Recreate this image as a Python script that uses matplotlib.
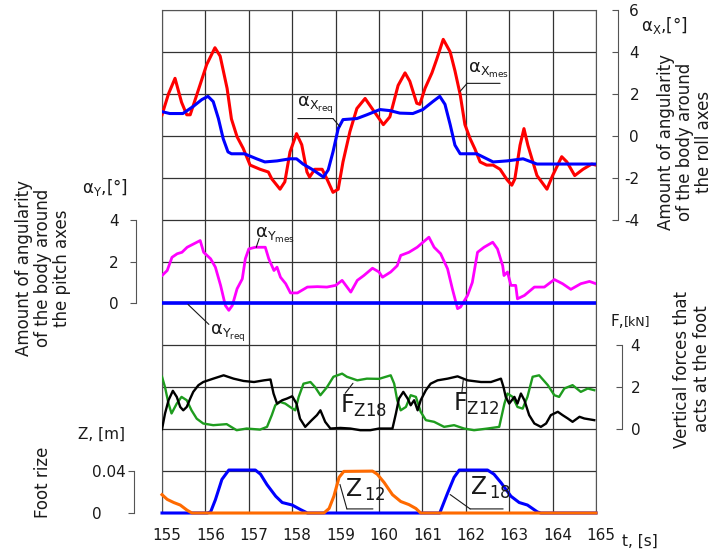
import matplotlib
matplotlib.use("Agg")
import matplotlib.pyplot as plt
import matplotlib.transforms as mtransforms

plt.rcParams['font.family'] = ['DejaVu Sans']
plt.rcParams['mathtext.default'] = 'regular'

# time axis
t_ticks = list(range(155, 166))

# roll angle (measured / required), deg
t_xmes = [155.0, 155.15, 155.3, 155.45, 155.57, 155.65, 155.88, 156.03, 156.22, 156.34,
          156.5, 156.6, 156.73, 156.87, 157.03, 157.26, 157.45, 157.53, 157.72, 157.83,
          157.95, 158.1, 158.22, 158.34, 158.4, 158.52, 158.69, 158.8, 158.94, 159.06,
          159.17, 159.33, 159.49, 159.68, 159.84, 160.1, 160.25, 160.44, 160.6, 160.71,
          160.87, 160.94, 161.06, 161.22, 161.33, 161.48, 161.64, 161.75, 161.87, 161.98,
          162.1, 162.21, 162.33, 162.48, 162.63, 162.79, 162.95, 163.06, 163.13, 163.25,
          163.34, 163.43, 163.64, 163.87, 164.0, 164.21, 164.33, 164.51, 164.7, 164.9, 165.0]
ax_mes = [1.0, 2.0, 2.74, 1.6, 1.0, 1.0, 2.45, 3.4, 4.2, 3.8,
          2.26, 0.8, -0.05, -0.6, -1.4, -1.6, -1.73, -2.06, -2.55, -2.2,
          -0.77, 0.1, -0.43, -1.73, -1.97, -1.6, -1.6, -2.06, -2.7, -2.55,
          -1.25, 0.2, 1.3, 1.78, 1.3, 0.53, 0.9, 2.4, 3.0, 2.6,
          1.55, 1.5, 2.26, 3.0, 3.65, 4.6, 4.0, 3.1, 1.97, 0.53,
          -0.14, -0.63, -1.25, -1.4, -1.4, -1.6, -2.1, -2.36, -2.06, -0.45,
          0.34, -0.45, -1.9, -2.55, -1.9, -1.0, -1.25, -1.9, -1.6, -1.35, -1.4]

t_xreq = [155.0, 155.18, 155.48, 155.72, 155.92, 156.06, 156.18, 156.3, 156.41, 156.52,
          156.6, 156.9, 157.18, 157.37, 157.65, 157.95, 158.1, 158.25, 158.48, 158.72,
          158.83, 158.94, 159.06, 159.17, 159.49, 159.72, 160.02, 160.25, 160.48, 160.78,
          161.01, 161.24, 161.4, 161.52, 161.64, 161.75, 161.87, 162.25, 162.63, 162.95,
          163.32, 163.64, 165.0]
ax_req = [1.15, 1.06, 1.06, 1.4, 1.73, 1.88, 1.63, 0.82, -0.14, -0.77,
          -0.86, -0.86, -1.1, -1.25, -1.2, -1.1, -1.1, -1.35, -1.63, -1.97,
          -1.63, -0.77, 0.34, 0.77, 0.82, 1.0, 1.25, 1.2, 1.08, 1.06,
          1.25, 1.63, 1.88, 1.5, 0.53, -0.45, -0.86, -0.86, -1.25, -1.2,
          -1.1, -1.35, -1.35]

# pitch angle, deg
t_ymes = [155.0, 155.12, 155.23, 155.35, 155.46, 155.58, 155.73, 155.88, 155.96, 156.12,
          156.23, 156.35, 156.46, 156.54, 156.62, 156.73, 156.85, 156.92, 157.0, 157.15,
          157.38, 157.46, 157.58, 157.65, 157.73, 157.85, 157.96, 158.12, 158.35, 158.58,
          158.8, 159.0, 159.15, 159.35, 159.5, 159.65, 159.85, 160.0, 160.08, 160.27,
          160.42, 160.5, 160.69, 160.88, 161.15, 161.27, 161.42, 161.58, 161.69, 161.81,
          161.88, 162.04, 162.15, 162.27, 162.42, 162.62, 162.73, 162.85, 162.88, 162.96,
          163.04, 163.15, 163.19, 163.35, 163.58, 163.81, 164.04, 164.23, 164.42, 164.65,
          164.85, 165.0]
ay_mes = [1.33, 1.57, 2.2, 2.37, 2.44, 2.68, 2.84, 3.0, 2.44, 2.13,
          1.73, 0.86, -0.1, -0.33, -0.1, 0.7, 1.17, 2.13, 2.6, 2.68,
          2.68, 2.13, 1.57, 1.73, 1.25, 0.94, 0.5, 0.5, 0.78, 0.8,
          0.78, 0.86, 1.1, 0.54, 1.1, 1.33, 1.68, 1.5, 1.25, 1.5,
          1.8, 2.29, 2.44, 2.68, 3.16, 2.68, 2.37, 1.65, 0.7, -0.25,
          -0.17, 0.38, 1.0, 2.44, 2.68, 2.92, 2.6, 1.8, 1.33, 1.5,
          0.86, 0.86, 0.22, 0.38, 0.78, 0.78, 1.14, 0.94, 0.67, 0.94,
          1.05, 0.94]
t_yreq = [155.0, 165.0]
ay_req = [0.0, 0.0]

# vertical foot forces, kN
t_f12 = [155.0, 155.07, 155.15, 155.25, 155.34, 155.42, 155.49, 155.57, 155.65, 155.72,
         155.84, 155.95, 156.18, 156.42, 156.65, 156.88, 157.12, 157.35, 157.5, 157.57,
         157.65, 157.77, 157.88, 158.0, 158.1, 158.18, 158.3, 158.45, 158.57, 158.65,
         158.76, 158.88, 159.11, 159.34, 159.57, 159.8, 160.0, 160.31, 160.39, 160.46,
         160.56, 160.66, 160.73, 160.81, 160.89, 160.96, 161.08, 161.19, 161.35, 161.58,
         161.81, 162.04, 162.35, 162.58, 162.81, 162.87, 162.92, 163.0, 163.12, 163.19,
         163.27, 163.35, 163.46, 163.58, 163.73, 163.85, 163.96, 164.12, 164.23, 164.35,
         164.46, 164.62, 164.73, 164.96]
fz12 = [0.0, 0.75, 1.38, 1.83, 1.54, 1.06, 0.9, 1.06, 1.46, 1.78,
        2.1, 2.25, 2.41, 2.57, 2.41, 2.3, 2.25, 2.33, 2.37, 1.7,
        1.22, 1.38, 1.46, 1.57, 1.22, 0.5, 0.11, 0.43, 0.67, 0.9,
        0.35, 0.03, 0.06, 0.03, -0.05, -0.05, 0.03, 0.03, 0.75, 1.46,
        1.78, 1.46, 1.14, 1.38, 0.9, 1.38, 1.86, 2.17, 2.33, 2.41,
        2.52, 2.33, 2.25, 2.25, 2.41, 2.0, 1.54, 1.22, 1.54, 1.22,
        1.7, 1.38, 0.67, 0.27, 0.11, 0.27, 0.67, 0.83, 0.67, 0.51,
        0.35, 0.59, 0.51, 0.43]

t_f18 = [155.0, 155.07, 155.15, 155.22, 155.34, 155.45, 155.57, 155.68, 155.8, 155.95,
         156.18, 156.49, 156.72, 156.95, 157.26, 157.42, 157.53, 157.61, 157.72, 157.84,
         157.95, 158.07, 158.15, 158.26, 158.42, 158.53, 158.65, 158.8, 158.95, 159.15,
         159.26, 159.5, 159.72, 160.0, 160.27, 160.35, 160.42, 160.5, 160.62, 160.73,
         160.85, 160.96, 161.08, 161.27, 161.5, 161.73, 161.96, 162.19, 162.5, 162.77,
         162.89, 162.96, 163.08, 163.19, 163.31, 163.42, 163.54, 163.69, 163.89, 164.04,
         164.15, 164.27, 164.46, 164.65, 164.81, 164.96]
fz18 = [2.5, 2.0, 1.22, 0.75, 1.22, 1.54, 1.38, 0.9, 0.5, 0.27,
        0.19, 0.24, -0.05, 0.03, -0.02, 0.11, 0.67, 1.14, 1.3, 1.22,
        1.06, 0.9, 1.54, 2.17, 2.25, 2.0, 1.62, 2.0, 2.5, 2.65,
        2.5, 2.33, 2.41, 2.4, 2.57, 2.17, 1.38, 0.9, 1.06, 1.62,
        1.54, 0.83, 0.43, 0.35, 0.11, 0.19, 0.03, -0.05, 0.03, 0.11,
        1.22, 1.7, 1.54, 1.06, 0.98, 1.54, 2.5, 2.57, 2.1, 1.62,
        1.54, 1.94, 2.1, 1.78, 1.94, 1.86]

# foot rise, m
t_z18 = [155.0, 156.04, 156.12, 156.23, 156.38, 156.54, 157.15, 157.27, 157.42, 157.62,
         157.77, 158.0, 158.19, 158.35, 161.4, 161.58, 161.73, 161.85, 162.5, 162.65,
         162.81, 163.04, 163.23, 163.42, 163.65, 163.73, 165.0]
z18 = [0, 0, 0.001, 0.0126, 0.032, 0.041, 0.041, 0.037, 0.027, 0.016,
       0.01, 0.0076, 0.0033, 0, 0, 0.019, 0.034, 0.041, 0.041, 0.037,
       0.029, 0.016, 0.01, 0.0076, 0.001, 0, 0]
t_z12 = [155.0, 155.12, 155.27, 155.42, 155.58, 155.69, 158.73, 158.85, 158.96, 159.08,
         159.19, 159.85, 159.96, 160.12, 160.31, 160.5, 160.69, 160.85, 160.96, 165.0]
z12 = [0.0175, 0.013, 0.01, 0.0076, 0.0026, 0, 0, 0.0043, 0.016, 0.034,
       0.0397, 0.04, 0.037, 0.029, 0.0175, 0.011, 0.008, 0.0043, 0, 0]

W, H = 713, 554
SPINE = '#555555'
TXT = '#1a1a1a'

fig = plt.figure(figsize=(W / 100, H / 100), dpi=100)
ax = fig.add_axes([162 / W, 41 / H, 434 / W, 503 / H])
ax.set_xlim(155, 165)
ax.set_ylim(0, 12)
ax.set_xticks(t_ticks)
ax.set_xticklabels([str(t) for t in t_ticks])
ax.set_yticks(range(13))
ax.tick_params(axis='y', length=0, labelleft=False)
ax.tick_params(axis='x', length=0, pad=11, labelsize=11, labelcolor=TXT)
shift = mtransforms.ScaledTranslation(0.05, 0, fig.dpi_scale_trans)
for lab in ax.get_xticklabels():
    lab.set_transform(lab.get_transform() + shift)
ax.grid(True, color='#333333', lw=0.9)
for sp in ax.spines.values():
    sp.set_color(SPINE)


def scale_axis(ylim, side, offset, bounds, ticks, labels, direction, pad, ha=None):
    t = ax.twinx()
    t.set_ylim(*ylim)
    for name, sp in t.spines.items():
        sp.set_visible(name == side)
    sp = t.spines[side]
    sp.set_position(('outward', offset))
    sp.set_bounds(*bounds)
    sp.set_color(SPINE)
    if side == 'left':
        t.yaxis.tick_left()
    t.set_yticks(ticks)
    t.set_yticklabels(labels)
    t.tick_params(axis='y', direction=direction, length=4, pad=pad,
                  labelsize=11, color=SPINE, labelcolor=TXT)
    if ha:
        plt.setp(t.get_yticklabels(), ha=ha)
    return t


ax_r = scale_axis((-18, 6), 'right', 16, (-4, 6), [-4, -2, 0, 2, 4, 6],
                  ['-4', '-2', '0', '2', '4', '6'], 'in', 15, ha='right')
ax_p = scale_axis((-10, 14), 'left', 19, (0, 4), [0, 2, 4], ['0', '2', '4'], 'out', 8)
ax_f = scale_axis((-4, 20), 'right', 19, (0, 4), [0, 2, 4], ['0', '2', '4'], 'in', 6)
ax_z = scale_axis((0, 0.48), 'left', 20, (0, 0.04), [0, 0.04], ['0', '0.04'], 'out', 26.5, ha='left')

# curves
ax_r.plot(t_xmes, ax_mes, color='#ff0000', lw=2.2)
ax_r.plot(t_xreq, ax_req, color='#0000ff', lw=2.2)
ax_p.plot(t_ymes, ay_mes, color='#ff00ff', lw=2.0)
ax_p.plot(t_yreq, ay_req, color='#0000ff', lw=2.6)
ax_f.plot(t_f18, fz18, color='#1e9c1e', lw=1.7)
ax_f.plot(t_f12, fz12, color='#000000', lw=1.7)
ax_z.plot(t_z18, z18, color='#0000ff', lw=2.2, clip_on=False)
ax_z.plot(t_z12, z12, color='#ff6a00', lw=2.2, clip_on=False)

# curve labels with leader lines
lead = dict(arrowstyle='-', lw=0.8, color=TXT, shrinkA=0, shrinkB=0)
ax_r.text(158.1, 0.95, r'$α_{X_{req}}$', fontsize=13, color=TXT, ha='left', va='bottom')
ax_r.annotate('', xy=(158.94, 0.82), xytext=(158.13, 0.82), arrowprops=lead)
ax_r.annotate('', xy=(159.1, 0.43), xytext=(158.94, 0.82), arrowprops=lead)
ax_r.text(162.05, 2.65, r'$α_{X_{mes}}$', fontsize=13, color=TXT, ha='left', va='bottom')
ax_r.annotate('', xy=(162.79, 2.5), xytext=(162.03, 2.5), arrowprops=lead)
ax_r.annotate('', xy=(161.87, 2.12), xytext=(162.03, 2.5), arrowprops=lead)

ax_p.text(157.14, 2.8, r'$α_{Y_{mes}}$', fontsize=13, color=TXT, ha='left', va='bottom')
ax_p.annotate('', xy=(157.17, 2.67), xytext=(157.24, 3.1), arrowprops=lead)
ax_p.text(156.1, -1.95, r'$α_{Y_{req}}$', fontsize=13, color=TXT, ha='left', va='bottom')
ax_p.annotate('', xy=(155.6, -0.05), xytext=(156.08, -1.0), arrowprops=lead)

ax_f.text(159.1, 0.5, r'$F_{Z18}$', fontsize=17, color=TXT, ha='left', va='bottom')
ax_f.annotate('', xy=(159.4, 2.19), xytext=(159.22, 1.71), arrowprops=lead)
ax_f.text(161.7, 0.6, r'$F_{Z12}$', fontsize=17, color=TXT, ha='left', va='bottom')
ax_f.annotate('', xy=(161.94, 2.33), xytext=(161.91, 1.76), arrowprops=lead)

ax_z.text(159.22, 0.0095, r'$Z_{\,12}$', fontsize=17, color=TXT, ha='left', va='bottom')
ax_z.annotate('', xy=(159.26, 0.0039), xytext=(159.1, 0.0273), arrowprops=lead)
ax_z.annotate('', xy=(159.86, 0.0039), xytext=(159.26, 0.0039), arrowprops=lead)
ax_z.text(162.1, 0.0115, r'$Z_{\,18}$', fontsize=17, color=TXT, ha='left', va='bottom')
ax_z.annotate('', xy=(162.1, 0.0039), xytext=(161.64, 0.0176), arrowprops=lead)
ax_z.annotate('', xy=(162.86, 0.0039), xytext=(162.1, 0.0039), arrowprops=lead)


def px(x, y):
    return x / W, 1 - y / H


# axis titles
fig.text(*px(641, 25), r'$α_X$,[°]', fontsize=12, color=TXT, ha='left', va='center')
fig.text(*px(82, 188), r'$α_Y$,[°]', fontsize=12, color=TXT, ha='left', va='center')
fig.text(*px(610, 322), 'F,', fontsize=11, color=TXT, ha='left', va='center')
fig.text(*px(624, 322), '[kN]', fontsize=9, color=TXT, ha='left', va='center')
fig.text(*px(78, 434), 'Z, [m]', fontsize=11, color=TXT, ha='left', va='center')
fig.text(*px(622, 541), 't, [s]', fontsize=11, color=TXT, ha='left', va='center')

side = dict(rotation=90, ha='center', va='center', multialignment='center',
            fontsize=12, color=TXT, linespacing=1.1)
fig.text(*px(685, 142), 'Amount of angularity\nof the body around\nthe roll axes', **side)
fig.text(*px(43, 268), 'Amount of angularity\nof the body around\nthe pitch axes', **side)
fig.text(*px(692, 369), 'Vertical forces that\nacts at the foot', **side)
fig.text(*px(43, 482), 'Foot rize', **side)

fig.savefig('out.png', dpi=100)
